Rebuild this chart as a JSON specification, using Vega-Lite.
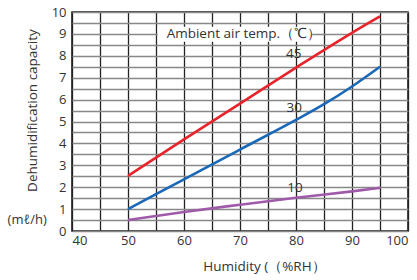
{
  "$schema": "https://vega.github.io/schema/vega-lite/v6.json",
  "width": 336,
  "height": 219,
  "autosize": {"type": "none"},
  "padding": {"left": 72, "top": 12, "right": 9, "bottom": 49},
  "background": "white",
  "config": {
    "view": {"stroke": "#111", "strokeWidth": 1.5},
    "font": "Open Sans",
    "text": {"font": "Open Sans", "color": "#333", "fontSize": 13}
  },
  "datasets": {
    "lines": [
      {"temp": "45", "x": 50, "y": 2.52},
      {"temp": "45", "x": 60, "y": 4.18},
      {"temp": "45", "x": 70, "y": 5.82},
      {"temp": "45", "x": 80, "y": 7.46},
      {"temp": "45", "x": 90, "y": 9.05},
      {"temp": "45", "x": 95, "y": 9.8},
      {"temp": "30", "x": 50, "y": 1.0},
      {"temp": "30", "x": 60, "y": 2.36},
      {"temp": "30", "x": 70, "y": 3.72},
      {"temp": "30", "x": 80, "y": 5.07},
      {"temp": "30", "x": 85, "y": 5.79},
      {"temp": "30", "x": 90, "y": 6.6},
      {"temp": "30", "x": 95, "y": 7.5},
      {"temp": "10", "x": 50, "y": 0.5},
      {"temp": "10", "x": 60, "y": 0.87},
      {"temp": "10", "x": 70, "y": 1.2},
      {"temp": "10", "x": 80, "y": 1.52},
      {"temp": "10", "x": 90, "y": 1.81},
      {"temp": "10", "x": 95, "y": 1.97}
    ],
    "labels": [
      {"x": 79.6, "y": 8.1, "text": "45"},
      {"x": 79.7, "y": 5.6, "text": "30"},
      {"x": 79.8, "y": 1.96, "text": "10"}
    ],
    "box": [{"x": 55.3, "x2": 82.9, "y": 8.64, "y2": 9.33}],
    "note": [{"x": 56.9, "y": 8.98, "text": "Ambient air temp.（℃）"}],
    "unit": [{"x": 32, "y": 0.5, "text": "(mℓ/h)"}],
    "ytitle": [{"x": 33.0, "y": 5.5, "text": "Dehumidification capacity"}]
  },
  "encoding": {
    "x": {
      "field": "x",
      "type": "quantitative",
      "scale": {"domain": [40, 100], "nice": false, "zero": false},
      "axis": {
        "values": [40, 45, 50, 55, 60, 65, 70, 75, 80, 85, 90, 95, 100],
        "format": ".0f",
        "labelExpr": "datum.value % 10 == 0 ? datum.label : ''",
        "grid": true,
        "gridColor": "#222",
        "gridWidth": 1.3,
        "gridOpacity": 1,
        "ticks": false,
        "domain": false,
        "labelFontSize": 13,
        "labelColor": "#333",
        "labelPadding": 3,
        "labelFont": "Open Sans",
        "title": "Humidity (（%RH）",
        "titleFont": "Open Sans",
        "titleFontSize": 13.5,
        "titleFontWeight": "normal",
        "titleColor": "#333",
        "titleX": 192,
        "titleY": 35,
        "titleAlign": "center",
        "titleBaseline": "middle"
      }
    },
    "y": {
      "field": "y",
      "type": "quantitative",
      "scale": {"domain": [0, 10], "nice": false},
      "axis": {
        "values": [0, 0.5, 1, 1.5, 2, 2.5, 3, 3.5, 4, 4.5, 5, 5.5, 6, 6.5, 7, 7.5, 8, 8.5, 9, 9.5, 10],
        "format": ".0f",
        "labelExpr": "datum.value % 1 == 0 ? datum.label : ''",
        "grid": true,
        "gridColor": "#888",
        "gridWidth": 1.3,
        "gridOpacity": 1,
        "ticks": false,
        "domain": false,
        "labelFontSize": 13,
        "labelColor": "#333",
        "labelPadding": 6,
        "labelFont": "Open Sans",
        "title": null
      }
    }
  },
  "layer": [
    {
      "data": {"name": "box"},
      "mark": {"type": "rect", "fill": "white", "stroke": null},
      "encoding": {"x2": {"field": "x2"}, "y2": {"field": "y2"}}
    },
    {
      "data": {"name": "note"},
      "mark": {"type": "text", "align": "left", "baseline": "middle", "fontSize": 13.5},
      "encoding": {"text": {"field": "text"}}
    },
    {
      "data": {"name": "lines"},
      "mark": {"type": "line", "strokeWidth": 2.6, "interpolate": "monotone"},
      "encoding": {
        "color": {
          "field": "temp",
          "type": "nominal",
          "scale": {"domain": ["45", "30", "10"], "range": ["#e8232b", "#1a68b8", "#a05aaa"]},
          "legend": null
        },
        "detail": {"field": "temp"}
      }
    },
    {
      "data": {"name": "labels"},
      "mark": {"type": "text", "align": "center", "baseline": "middle", "fontSize": 13.5},
      "encoding": {"text": {"field": "text"}}
    },
    {
      "data": {"name": "unit"},
      "mark": {"type": "text", "align": "center", "baseline": "middle", "fontSize": 13},
      "encoding": {"text": {"field": "text"}}
    },
    {
      "data": {"name": "ytitle"},
      "mark": {"type": "text", "align": "center", "baseline": "middle", "angle": 270, "fontSize": 13.5},
      "encoding": {"text": {"field": "text"}}
    }
  ]
}
